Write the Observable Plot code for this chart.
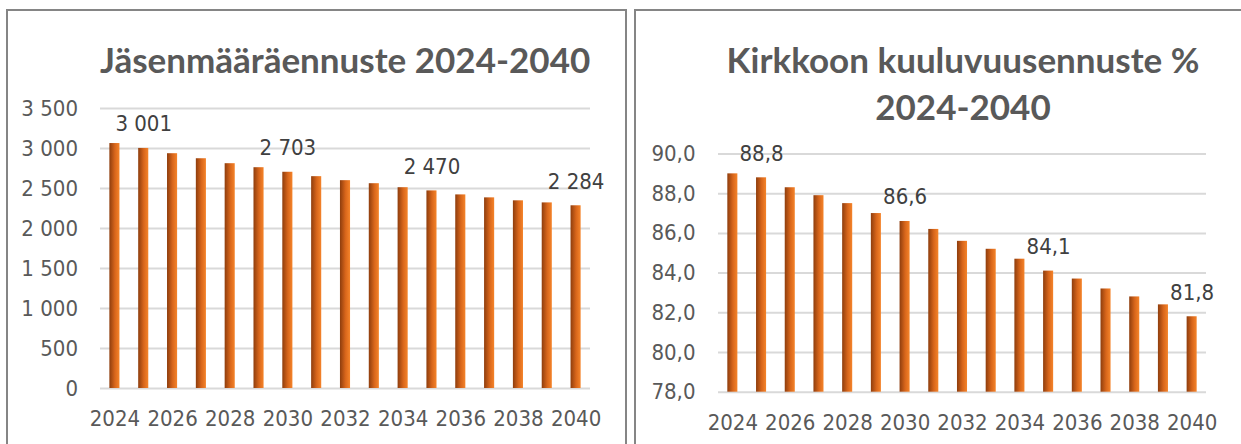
<!DOCTYPE html>
<html><head><meta charset="utf-8">
<script src="https://cdn.jsdelivr.net/npm/d3@7"></script>
<script src="https://cdn.jsdelivr.net/npm/@observablehq/plot@0.6"></script>
<style>
html,body{margin:0;padding:0;background:#fff;width:1241px;height:444px;overflow:hidden;position:relative}
.panel{position:absolute;border:2px solid #858585;box-sizing:border-box}
.title{position:absolute;font-family:Lato,"Open Sans",sans-serif;font-weight:700;color:#595959;text-align:center;white-space:nowrap;font-size:35px;line-height:47px}
.chart{position:absolute}
</style></head><body>
<div class="panel" style="left:6px;top:9px;width:621px;height:500px"></div>
<div class="panel" style="left:634px;top:9px;width:700px;height:500px"></div>
<div class="title" style="left:100px;width:484px;top:36px">Jäsenmääräennuste 2024-2040</div>
<div class="title" style="left:718px;width:490px;top:36px">Kirkkoon kuuluvuusennuste %<br>2024-2040</div>
<div class="chart" id="c1" style="left:0px;top:90px;width:620px;height:354px"></div>
<div class="chart" id="c2" style="left:634px;top:130px;width:607px;height:314px"></div>
<script>
const years = [2024, 2025, 2026, 2027, 2028, 2029, 2030, 2031, 2032, 2033, 2034, 2035, 2036, 2037, 2038, 2039, 2040];
const members = [3062, 3001, 2935, 2872, 2810, 2760, 2703, 2648, 2598, 2560, 2510, 2470, 2420, 2383, 2346, 2320, 2284];
const share = [89.0, 88.8, 88.3, 87.9, 87.5, 87.0, 86.6, 86.2, 85.6, 85.2, 84.7, 84.1, 83.7, 83.2, 82.8, 82.4, 81.8];
const labelYears = [2025, 2030, 2035, 2040];
const xTickYears = [2024, 2026, 2028, 2030, 2032, 2034, 2036, 2038, 2040];
const leftYTicks = [0, 500, 1000, 1500, 2000, 2500, 3000, 3500];
const rightYTicks = [78, 80, 82, 84, 86, 88, 90];

const fi = d3.formatLocale({decimal: ",", thousands: "\u00a0", grouping: [3], currency: ["", " €"]});
const fmtInt = fi.format(",d");
const fmt1 = fi.format(".1f");

const numFont = '"Liberation Sans Narrow","DejaVu Sans Condensed","Roboto Condensed",Roboto,sans-serif';
const numSize = 22;

function makeChart(values, opts) {
  const data = years.map((year, i) => ({year, value: values[i]}));
  const labels = data.filter(d => labelYears.includes(d.year));
  const base = opts.yDomain[0];
  const svg = Plot.plot({
    width: opts.width, height: opts.height,
    marginLeft: opts.ml, marginRight: opts.mr, marginTop: opts.mt, marginBottom: opts.mb,
    style: {fontFamily: numFont, fontSize: numSize + "px", color: "#595959", background: "transparent", overflow: "visible", maxWidth: "none"},
    x: {type: "band", domain: years, paddingInner: 0.65, paddingOuter: 0.325, round: false, axis: null, label: null},
    y: {domain: opts.yDomain, axis: null, label: null},
    marks: [
      Plot.gridY(opts.yTicks, {stroke: "#d9d9d9", strokeWidth: 2, strokeOpacity: 1}),
      Plot.axisY(opts.yTicks, {tickSize: 0, tickPadding: opts.yPad, tickFormat: opts.fmt, fontSize: numSize, label: null}),
      Plot.axisX(xTickYears, {tickSize: 0, tickPadding: 22, tickFormat: d => String(d), fontSize: numSize, label: null}),
      Plot.barY(data, {x: "year", y1: () => base, y2: "value", fill: `url(#${opts.grad})`}),
      Plot.text(labels, {x: "year", y: "value", text: d => opts.fmt(d.value), dy: -17, lineAnchor: "bottom", fill: "#404040", fontSize: numSize})
    ]
  });
  const defs = d3.select(svg).insert("defs", ":first-child");
  const g = defs.append("linearGradient").attr("id", opts.grad).attr("x1", "0").attr("x2", "1").attr("y1", "0").attr("y2", "0");
  g.append("stop").attr("offset", "0%").attr("stop-color", "#8e3d0d");
  g.append("stop").attr("offset", "55%").attr("stop-color", "#d8661b");
  g.append("stop").attr("offset", "100%").attr("stop-color", "#f5842a");
  return svg;
}

document.getElementById("c1").append(makeChart(members, {
  width: 620, height: 354, ml: 100, mr: 30, mt: 18, mb: 56,
  yDomain: [0, 3500], yTicks: leftYTicks, yPad: 22.5, fmt: fmtInt, grad: "gradL"
}));
document.getElementById("c2").append(makeChart(share, {
  width: 607, height: 314, ml: 84, mr: 35, mt: 23.5, mb: 52.3,
  yDomain: [78, 90], yTicks: rightYTicks, yPad: 23, fmt: fmt1, grad: "gradR"
}));
</script>
</body></html>
